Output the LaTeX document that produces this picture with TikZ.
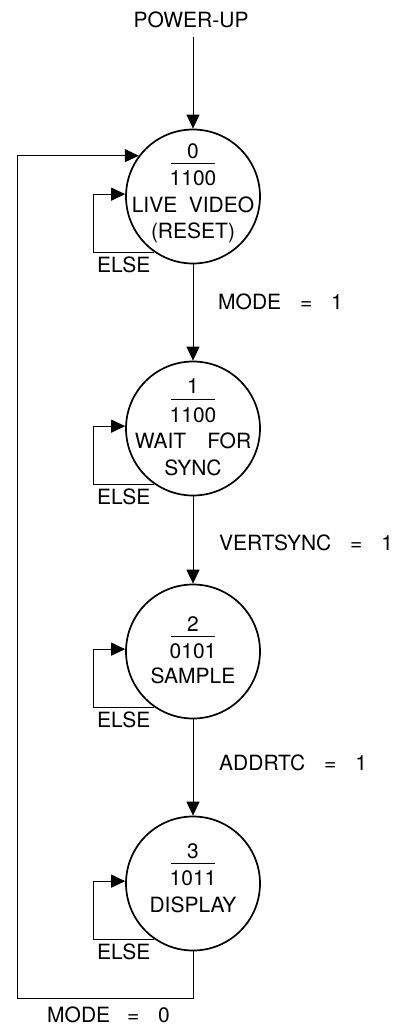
\documentclass[tikz,border=0pt]{standalone}
\usepackage{fontspec}
\setmainfont{TeX Gyre Heros}
\usetikzlibrary{arrows.meta}
\newcommand\lbfont{\fontsize{21pt}{25pt}\selectfont}
\begin{document}
\begin{tikzpicture}[x=1pt,y=-1pt,
  state/.style={circle, draw, line width=1.7pt, minimum size=134pt, inner sep=0pt},
  lbl/.style={font=\lbfont, inner sep=0pt, anchor=base},
  lblw/.style={font=\lbfont, inner sep=0pt, anchor=base west},
  conn/.style={line width=1pt},
  arr/.style={conn, -{Triangle[length=14pt,width=13pt]}},
  bar/.style={line width=1pt}]
\path[use as bounding box] (0,0) rectangle (404,1025);

% states
\node[state] (c0) at (193,196.5) {};
\node[state] (c1) at (193,428.5) {};
\node[state] (c2) at (193,651.5) {};
\node[state] (c3) at (193,883.5) {};

% power-up
\node[lbl] (pu) at (191,28) {POWER-UP};
\coordinate (pustart) at (193,37);
\draw[arr] (pustart) -- (c0.north);

% state texts
\node[lbl] (t0a) at (193,158) {0};
\draw[bar] (171,163) -- (215,163);
\node[lbl] (t0b) at (193,185) {1100};
\node[lbl] (t0c) at (193,212) {LIVE\hspace{0.55em}VIDEO};
\node[lbl] (t0d) at (193,238) {(RESET)};

\node[lbl] (t1a) at (193,393) {1};
\draw[bar] (171,399) -- (215,399);
\node[lbl] (t1b) at (193,422) {1100};
\node[lbl] (t1c) at (193,448) {WAIT\hspace{1em}FOR};
\node[lbl] (t1d) at (193,475) {SYNC};

\node[lbl] (t2a) at (193,631) {2};
\draw[bar] (171,636) -- (215,636);
\node[lbl] (t2b) at (193,658) {0101};
\node[lbl] (t2c) at (193,683) {SAMPLE};

\node[lbl] (t3a) at (193,858) {3};
\draw[bar] (171,863) -- (215,863);
\node[lbl] (t3b) at (193,885) {1011};
\node[lbl] (t3c) at (193,912) {DISPLAY};

% self loops
\coordinate (lx) at (93,0);
\foreach \s/\yy in {c0/196.5, c1/428.5, c2/651.5, c3/883.5}{
  \draw[arr] (\s.235) -- (\s.235 -| lx) |- (\s.178);
  \node[lblw] (else-\s) at (97,\yy+76) {ELSE};
}

% transitions
\draw[arr] (c0.south) -- (c1.north);
\draw[arr] (c1.south) -- (c2.north);
\draw[arr] (c2.south) -- (c3.north);
\node[lblw] (m1) at (218,309) {MODE\hspace{0.9em}=\hspace{0.9em}1};
\node[lblw] (vs) at (219,550) {VERTSYNC\hspace{0.9em}=\hspace{0.9em}1};
\node[lblw] (ad) at (219,770) {ADDRTC\hspace{0.9em}=\hspace{0.9em}1};

% return path
\coordinate (bl) at (17,998);
\draw[arr] (c3.south) |- (bl) |- (c0.143);
\node[lblw] (m0) at (47,1022) {MODE\hspace{0.8em}=\hspace{0.9em}0};
\end{tikzpicture}
\end{document}
